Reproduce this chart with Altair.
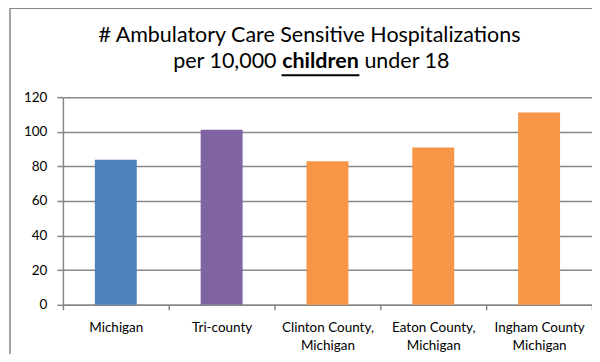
import altair as alt
import pandas as pd

categories = ["Michigan", "Tri-county", "Clinton County,|Michigan", "Eaton County,|Michigan", "Ingham County|Michigan"]
values = [83.8, 101.2, 82.9, 90.9, 111.1]
colors = ["#4F81BD", "#8064A2", "#F79646", "#F79646", "#F79646"]
y_ticks = [0, 20, 40, 60, 80, 100, 120]
title_line1 = "# Ambulatory Care Sensitive Hospitalizations"
title_line2 = ["per 10,000", "children", "under 18"]

FONT = "Lato"
GRID = "#878787"
TS = 21.5

df = pd.DataFrame({"cat": categories, "val": values})

bars = alt.Chart(df).mark_bar(size=42).encode(
    x=alt.X("cat:N", sort=categories,
            scale=alt.Scale(paddingInner=0, paddingOuter=0),
            axis=alt.Axis(title=None, labelAngle=0,
                          labelExpr="isString(datum.value) ? split(datum.value, '|') : ''",
                          labelFontSize=13.5, labelColor="#000", labelFont=FONT,
                          labelLineHeight=18, labelPadding=11, tickBand="extent",
                          tickSize=5, tickColor=GRID, tickWidth=1.5,
                          domainColor=GRID, domainWidth=1.5, grid=False)),
    y=alt.Y("val:Q", scale=alt.Scale(domain=[0, 120], nice=False),
            axis=alt.Axis(title=None, values=y_ticks, labelFontSize=13.5, labelColor="#000",
                          labelFont=FONT, labelPadding=10, tickSize=6, tickColor=GRID,
                          tickWidth=1.5, domainColor=GRID, domainWidth=1.5,
                          grid=True, gridColor=GRID, gridWidth=1.5)),
    color=alt.Color("cat:N", scale=alt.Scale(domain=categories, range=colors), legend=None),
)

one = pd.DataFrame({"k": [0]})

t1 = alt.Chart(one).mark_text(text=title_line1, font=FONT, fontSize=TS, align="center",
                              baseline="alphabetic", color="#000").encode(
    x=alt.value(247), y=alt.value(-55))
t2a = alt.Chart(one).mark_text(text=title_line2[0], font=FONT, fontSize=TS, align="right",
                               baseline="alphabetic", color="#000").encode(
    x=alt.value(214), y=alt.value(-29))
t2b = alt.Chart(one).mark_text(text=title_line2[1], font=FONT, fontSize=TS, fontWeight="bold",
                               align="center", baseline="alphabetic", color="#000").encode(
    x=alt.value(258), y=alt.value(-29))
t2c = alt.Chart(one).mark_text(text=title_line2[2], font=FONT, fontSize=TS, align="left",
                               baseline="alphabetic", color="#000").encode(
    x=alt.value(302), y=alt.value(-29))
underline = alt.Chart(one).mark_rule(color="#000", strokeWidth=2).encode(
    x=alt.value(219), x2=alt.value(297), y=alt.value(-22))
border = alt.Chart(one).mark_rect(filled=False, stroke=GRID, strokeWidth=1.5).encode(
    x=alt.value(-53), x2=alt.value(700), y=alt.value(-89), y2=alt.value(400))

chart = alt.layer(border, bars, t1, t2a, t2b, t2c, underline).properties(
    width=530, height=208,
    padding={"left": 55, "top": 89, "right": 0, "bottom": 49},
    autosize=alt.AutoSizeParams(type="none"),
).configure_view(stroke=None)

chart.save("out.html", embed_options={"renderer": "svg", "actions": False})
